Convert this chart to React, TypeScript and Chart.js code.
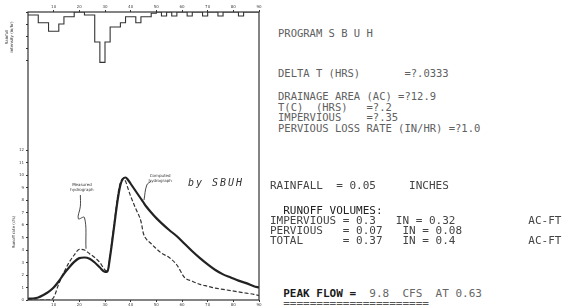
import React, { useEffect, useRef } from "react";
import { Chart, registerables } from "chart.js";
Chart.register(...registerables);

// ---- data ----
const timeTicks = [10, 20, 30, 40, 50, 60, 70, 80, 90];
const flowTicks = [0, 1, 2, 3, 4, 5, 6, 7, 8, 9, 10, 11, 12];
const rainTicks = [0, 1, 2, 3, 4];

const rainTimes = [0, 2, 4, 6, 8, 10, 12, 14, 16, 18, 20, 22, 24, 26, 28, 30, 32, 34, 36, 38, 40, 42, 44, 46, 48, 50, 52, 54, 56, 58, 60, 62, 64, 66, 68, 70, 72, 74, 76, 78, 80, 82, 84, 86, 88, 90];
const rainValues = [0.25, 0.25, 0.25, 0.9, 0.9, 1.6, 1.6, 1.0, 0.4, 0.4, 0, 0, 0.25, 0.25, 2.5, 4.2, 2.5, 1.25, 1.25, 0.9, 0.4, 0.4, 0.9, 0.4, 0.4, 0.1, 0, 0.33, 0, 0.33, 0, 0, 0.33, 0, 0, 0.33, 0, 0, 0.33, 0, 0, 0, 0.33, 0, 0, 0];

const flowTimes = [0, 2, 4, 6, 8, 10, 12, 14, 16, 18, 20, 22, 24, 26, 28, 30, 31, 32, 33, 34, 35, 36, 37, 38, 39, 40, 42, 44, 45, 46, 48, 50, 52, 55, 58, 61, 64, 67, 70, 73, 76, 79, 82, 85, 88, 90];
const computedFlow = [0.1, 0.12, 0.2, 0.4, 0.65, 1.0, 1.5, 2.1, 2.6, 3.05, 3.35, 3.4, 3.3, 3.0, 2.6, 2.25, 2.3, 3.5, 5.0, 6.6, 8.1, 9.2, 9.7, 9.8, 9.6, 9.3, 8.7, 8.1, 7.8, 7.5, 7.0, 6.55, 6.15, 5.6, 5.1, 4.5, 3.9, 3.35, 2.85, 2.4, 2.05, 1.8, 1.55, 1.35, 1.1, 1.0];
const measuredFlow = [0, 0, 0, 0, 0, 0.2, 1.3, 2.2, 3.0, 3.6, 4.05, 4.0, 3.7, 3.4, 3.0, 2.4, 2.3, 3.6, 5.2, 6.8, 8.4, 9.4, 9.7, 9.5, 8.9, 8.3, 7.3, 6.3, 5.3, 4.9, 4.5, 4.1, 3.75, 3.4, 2.8, 1.8, 1.5, 1.25, 1.1, 0.95, 0.85, 0.75, 0.65, 0.55, 0.45, 0.35];

const measuredLeaderT = [20.4, 20.4, 19.6, 22.0, 22.6];
const measuredLeaderQ = [8.4, 7.5, 6.5, 6.6, 4.1];
const computedLeaderT = [48.0, 46.3, 45.2];
const computedLeaderQ = [9.5, 9.2, 8.0];

const upperLines = [
  "PROGRAM S B U H",
  "DELTA T (HRS)       =?.0333",
  "DRAINAGE AREA (AC) =?12.9",
  "T(C)  (HRS)   =?.2",
  "IMPERVIOUS    =?.35",
  "PERVIOUS LOSS RATE (IN/HR) =?1.0",
];
const lowerLines = [
  "RAINFALL  = 0.05     INCHES",
  "  RUNOFF VOLUMES:",
  "IMPERVIOUS = 0.3   IN = 0.32           AC-FT",
  "PERVIOUS   = 0.07   IN = 0.08",
  "TOTAL      = 0.37   IN = 0.4           AC-FT",
];
const peakLabel = "  PEAK FLOW =";
const peakValue = "  9.8  CFS  AT 0.63";
const peakRule = "  ======================";

const ink = "#222";
const tickFont = { size: 4, family: "DejaVu Sans" };

const framePlugin = {
  id: "frame",
  beforeDatasetsDraw(chart: any) {
    const { ctx, chartArea } = chart;
    ctx.save();
    ctx.strokeStyle = "#333";
    ctx.lineWidth = 1.2;
    ctx.strokeRect(chartArea.left, chartArea.top, chartArea.right - chartArea.left, chartArea.bottom - chartArea.top);
    ctx.restore();
  },
  afterDatasetsDraw(chart: any) {
    const { ctx } = chart;
    const xs = chart.scales.x;
    const ys = chart.scales.yFlow;
    ctx.save();
    ctx.fillStyle = "#333";
    ctx.font = "4px DejaVu Sans";
    ctx.textAlign = "center";
    const mx = xs.getPixelForValue(21);
    const my = ys.getPixelForValue(9.0);
    ctx.fillText("Measured", mx, my - 2);
    ctx.fillText("hydrograph", mx, my + 3);
    const cx = xs.getPixelForValue(51.5);
    const cy = ys.getPixelForValue(9.65);
    ctx.fillText("Computed", cx, cy - 2);
    ctx.fillText("hydrograph", cx, cy + 3);
    ctx.restore();
  },
};

function timeAxis(position: string, h: number) {
  return {
    type: "linear",
    position,
    min: 0,
    max: 90,
    afterBuildTicks: (s: any) => {
      s.ticks = timeTicks.map((v) => ({ value: v }));
    },
    afterFit: (s: any) => {
      s.height = h;
    },
    ticks: { font: tickFont, color: "#444", padding: 1, maxRotation: 0, autoSkip: false },
    grid: { drawOnChartArea: false, tickLength: 2, color: "#333" },
    border: { display: false },
  };
}

export default function App() {
  const ref = useRef<HTMLCanvasElement>(null);
  useEffect(() => {
    document.body.style.margin = "0";
    const chart = new Chart(ref.current as HTMLCanvasElement, {
      type: "line",
      data: {
        datasets: [
          {
            label: "Rainfall",
            data: rainTimes.map((t, i) => ({ x: t, y: rainValues[i] })),
            yAxisID: "yRain",
            xAxisID: "x",
            stepped: "after",
            borderColor: "#333",
            borderWidth: 1.1,
            pointRadius: 0,
            fill: false,
          },
          {
            label: "Computed",
            data: flowTimes.map((t, i) => ({ x: t, y: computedFlow[i] })),
            yAxisID: "yFlow",
            xAxisID: "x",
            borderColor: ink,
            borderWidth: 2.2,
            pointRadius: 0,
            cubicInterpolationMode: "monotone",
          },
          {
            label: "Measured",
            data: flowTimes.map((t, i) => ({ x: t, y: measuredFlow[i] })),
            yAxisID: "yFlow",
            xAxisID: "x",
            borderColor: "#333",
            borderWidth: 1.2,
            borderDash: [4, 2],
            pointRadius: 0,
            cubicInterpolationMode: "monotone",
          },
          {
            label: "mleader",
            data: measuredLeaderT.map((t, i) => ({ x: t, y: measuredLeaderQ[i] })),
            yAxisID: "yFlow",
            xAxisID: "x",
            borderColor: "#333",
            borderWidth: 0.9,
            pointRadius: 0,
            tension: 0.4,
          },
          {
            label: "cleader",
            data: computedLeaderT.map((t, i) => ({ x: t, y: computedLeaderQ[i] })),
            yAxisID: "yFlow",
            xAxisID: "x",
            borderColor: "#333",
            borderWidth: 0.9,
            pointRadius: 0,
            tension: 0.4,
          },
        ],
      } as any,
      options: {
        responsive: false,
        animation: false,
        devicePixelRatio: 1,
        layout: { padding: { left: 0, right: 6, top: 0, bottom: 0 } },
        plugins: { legend: { display: false }, tooltip: { enabled: false } },
        scales: {
          x: timeAxis("bottom", 8) as any,
          x2: timeAxis("top", 12) as any,
          yRain: {
            type: "linear",
            position: "left",
            reverse: true,
            min: 0,
            max: 24,
            weight: 0,
            afterBuildTicks: (s: any) => {
              s.ticks = rainTicks.map((v) => ({ value: v }));
            },
            afterFit: (s: any) => {
              s.width = 0;
            },
            ticks: { font: tickFont, color: "#444", padding: 2 },
            grid: { drawOnChartArea: false, tickLength: 2, color: "#333" },
            border: { display: false },
          },
          yFlow: {
            type: "linear",
            position: "left",
            min: 0,
            max: 23.04,
            weight: 1,
            afterBuildTicks: (s: any) => {
              s.ticks = flowTicks.map((v) => ({ value: v }));
            },
            afterFit: (s: any) => {
              s.width = 28;
            },
            ticks: { font: tickFont, color: "#444", padding: 2 },
            grid: { drawOnChartArea: false, tickLength: 2, color: "#333" },
            border: { display: false },
          },
        } as any,
      },
      plugins: [framePlugin],
    });
    return () => chart.destroy();
  }, []);

  const mono: React.CSSProperties = {
    position: "absolute",
    fontFamily: "'DejaVu Sans Mono', monospace",
    fontSize: 11,
    lineHeight: "11px",
    whiteSpace: "pre",
    margin: 0,
  };
  const upperTops = [28, 67.5, 91, 101.5, 112, 123];
  const lowerTops = [179.5, 205, 215, 225, 235];

  return (
    <div style={{ position: "fixed", left: 0, top: 0, width: 572, height: 308, background: "#fff", overflow: "hidden" }}>
      <canvas ref={ref} width={265} height={308} style={{ position: "absolute", left: 0, top: 0, width: 265, height: 308 }} />
      <div style={{ position: "absolute", left: 9, top: 37, transform: "translate(-50%,-50%) rotate(-90deg)", fontFamily: "DejaVu Sans", fontSize: 4, lineHeight: "5px", textAlign: "center", color: "#333", whiteSpace: "nowrap" }}>
        Rainfall
        <br />
        intensity (in/hr)
      </div>
      <div style={{ position: "absolute", left: 13, top: 232, transform: "translate(-50%,-50%) rotate(-90deg)", fontFamily: "DejaVu Sans", fontSize: 4, lineHeight: "5px", color: "#333", whiteSpace: "nowrap" }}>
        Runoff rate (cfs)
      </div>
      <div style={{ position: "absolute", left: 188, top: 177, fontFamily: "'DejaVu Sans Mono', monospace", fontStyle: "italic", fontSize: 10, letterSpacing: 2, color: "#333", whiteSpace: "pre" }}>
        by SBUH
      </div>
      {upperLines.map((t, i) => (
        <div key={"u" + i} style={{ ...mono, fontSize: 10.5, left: 278, top: upperTops[i], color: "#606060" }}>
          {t}
        </div>
      ))}
      {lowerLines.map((t, i) => (
        <div key={"l" + i} style={{ ...mono, left: 270, top: lowerTops[i], color: i === 1 ? "#222" : "#444" }}>
          {t}
        </div>
      ))}
      <div style={{ ...mono, left: 270, top: 287.5 }}>
        <span style={{ color: "#1a1a1a", fontWeight: "bold" }}>{peakLabel}</span>
        <span style={{ color: "#666" }}>{peakValue}</span>
      </div>
      <div style={{ ...mono, left: 270, top: 298, color: "#555" }}>{peakRule}</div>
    </div>
  );
}
